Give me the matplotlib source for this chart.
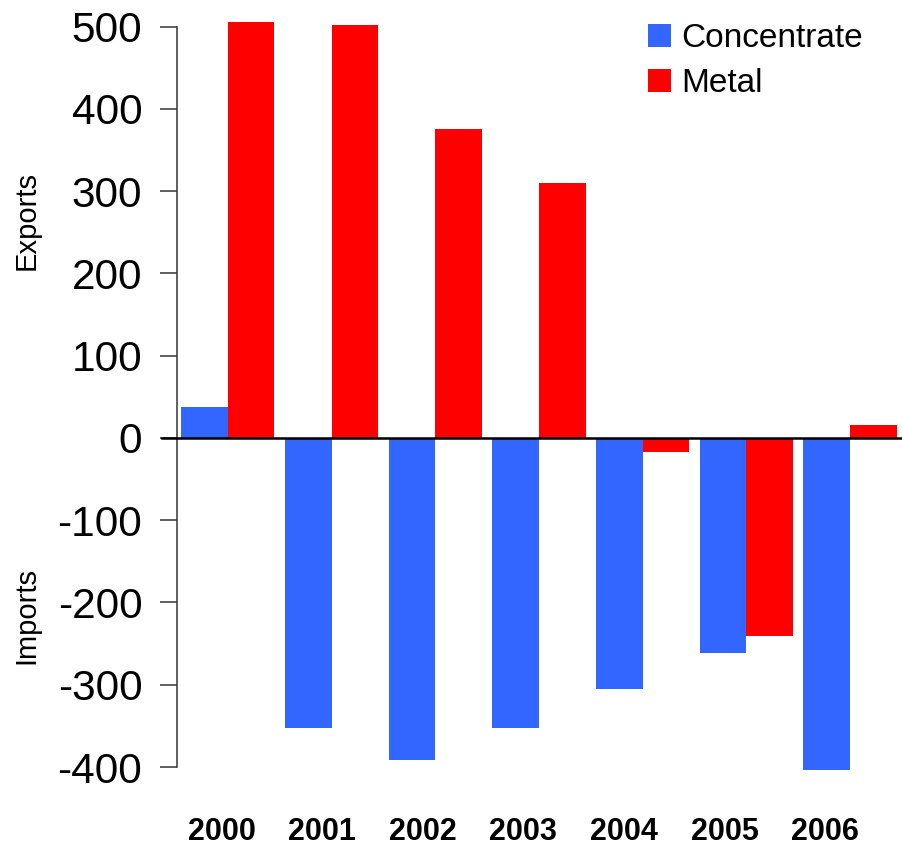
import matplotlib
matplotlib.use('Agg')
import matplotlib.pyplot as plt
import numpy as np

matplotlib.rcParams['font.family'] = 'Liberation Sans'
matplotlib.rcParams['axes.unicode_minus'] = False

years = ['2000', '2001', '2002', '2003', '2004', '2005', '2006']
concentrate = [38, -353, -392, -353, -305, -262, -403]
metal = [505, 502, 376, 310, -17, -241, 16]

blue = '#3366ff'
red = '#ff0000'

fig = plt.figure(figsize=(9.03, 8.47), dpi=100)
ax = fig.add_axes([0.196, 0.0944, 0.804, 0.8743])

x = np.arange(len(years))
w = 0.45
ax.bar(x - w / 2, concentrate, w, color=blue, label='Concentrate', clip_on=False)
ax.bar(x + w / 2, metal, w, color=red, label='Metal', clip_on=False)

ax.set_xlim(-0.49, 6.51)
ax.set_ylim(-400, 500)
ax.set_yticks(range(-400, 501, 100))
ax.tick_params(axis='y', labelsize=30.5, length=12, width=1.2, pad=13, color='#444444')

# year labels sit a little left of the bar pairs
ax.set_xticks(x * 0.97 - 0.06)
ax.set_xticklabels(years, fontsize=22, fontweight='bold')
ax.tick_params(axis='x', length=0, pad=36)

for side in ['top', 'right', 'bottom']:
    ax.spines[side].set_visible(False)
ax.spines['left'].set_color('#444444')
ax.spines['left'].set_linewidth(1.2)

ax.axhline(0, xmin=-0.02, color='black', lw=1.8, clip_on=False, zorder=3)

fig.text(0.029, 1 - 220 / 847, 'Exports', rotation=90, fontsize=21, ha='center', va='center')
fig.text(0.029, 1 - 615 / 847, 'Imports', rotation=90, fontsize=21, ha='center', va='center')

ax.legend(loc='upper right', bbox_to_anchor=(0.986, 1.045), frameon=False, fontsize=24,
          handlelength=0.7, handleheight=0.7, handletextpad=0.3, labelspacing=0.42)

fig.savefig('out.png', dpi=100)
